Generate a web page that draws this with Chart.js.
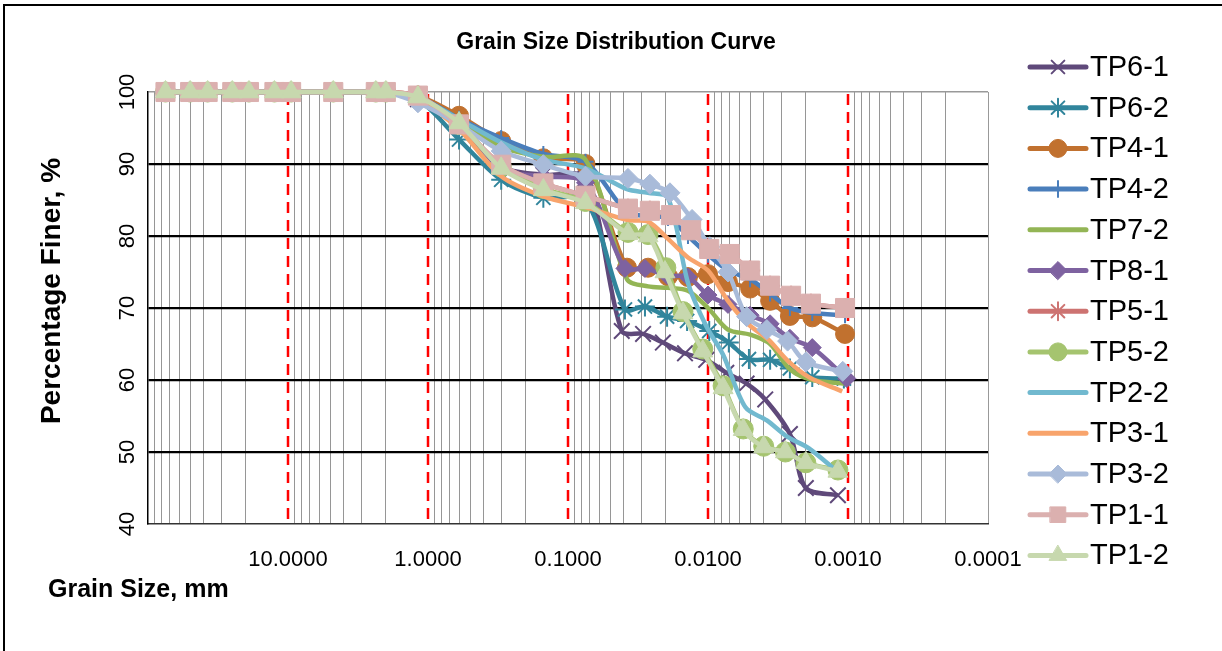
<!DOCTYPE html>
<html><head><meta charset="utf-8">
<script src="https://cdn.jsdelivr.net/npm/chart.js@4.4.0/dist/chart.umd.min.js"></script>
<style>html,body{margin:0;padding:0;background:#fff;}#wrap{width:1222px;height:651px;position:relative;}</style>
</head><body><div id="wrap"><canvas id="c"></canvas></div>
<script>
// ---------- DATA ----------
const chartTitle = 'Grain Size Distribution Curve';
const xTitle = 'Grain Size, mm';
const yTitle = 'Percentage Finer, %';
const sieveSizes = [75, 50, 37.5, 25, 19, 12.5, 9.5, 4.75, 2.36, 2.0, 1.18, 0.6, 0.3, 0.15, 0.075];
const xTickValues = [10, 1, 0.1, 0.01, 0.001, 0.0001];
const yTickValues = [40, 50, 60, 70, 80, 90, 100];
const seriesNames = ['TP6-1','TP6-2','TP4-1','TP4-2','TP7-2','TP8-1','TP5-1','TP5-2','TP2-2','TP3-1','TP3-2','TP1-1','TP1-2'];

const tp6_1_hyd = [0.0413, 0.0291, 0.0210, 0.0146, 0.0103, 0.0074, 0.0053, 0.0039, 0.0026, 0.0020, 0.00118];
const tp6_1 = [100,100,100,100,100,100,100,100,100,100, 99.0, 95.3, 89.6, 88.5, 88.0, 66.8, 66.4, 65.2, 63.7, 62.8, 61.0, 59.5, 57.3, 52.5, 45.0, 44.0];
const tp6_2_hyd = [0.0392, 0.0282, 0.0196, 0.0141, 0.0098, 0.0071, 0.0051, 0.0036, 0.0026, 0.0018, 0.00107];
const tp6_2 = [100,100,100,100,100,100,100,100,100,100, 99.0, 93.4, 87.8, 85.3, 85.0, 69.8, 70.2, 68.8, 68.2, 66.8, 65.2, 62.9, 62.8, 61.6, 60.4, 60.2];
const tp4_1_hyd = [0.0379, 0.0268, 0.0193, 0.0139, 0.0100, 0.0072, 0.0050, 0.0036, 0.0026, 0.0018, 0.00105];
const tp4_1 = [100,100,100,100,100,100,100,100,100,100, 99.5, 96.7, 93.2, 90.8, 90.0, 75.6, 75.6, 74.4, 74.3, 74.7, 73.6, 72.7, 71.0, 68.9, 68.7, 66.4];
const tp4_2_hyd = [0.0379, 0.0268, 0.0193, 0.0139, 0.0100, 0.0072, 0.0050, 0.0036, 0.0026, 0.0018, 0.00105];
const tp4_2 = [100,100,100,100,100,100,100,100,100,100, 99.4, 96.3, 93.6, 91.4, 90.3, 83.3, 82.8, 82.5, 80.0, 77.4, 75.2, 74.0, 72.0, 70.0, 69.3, 69.0];
const tp7_2_hyd = [0.0379, 0.0268, 0.0193, 0.0139, 0.0100, 0.0072, 0.0050, 0.0036, 0.0026, 0.0018, 0.00105];
const tp7_2 = [100,100,100,100,100,100,100,100,100,100, 99.3, 96.0, 92.4, 91.0, 90.6, 74.0, 73.0, 72.8, 72.4, 70.0, 67.0, 66.3, 65.0, 61.5, 60.0, 59.5];
const tp8_1_hyd = [0.0392, 0.0282, 0.0196, 0.0139, 0.0100, 0.0072, 0.0050, 0.0036, 0.0026, 0.0018, 0.00102];
const tp8_1 = [100,100,100,100,100,100,100,100,100,100, 99.2, 95.8, 89.3, 88.3, 87.4, 75.5, 75.5, 74.5, 74.3, 71.8, 70.5, 69.0, 67.8, 65.8, 64.5, 60.2];
const tp5_1_hyd = [0.0373, 0.0260, 0.0184, 0.0132, 0.0098, 0.0070, 0.0050, 0.0036, 0.00255, 0.00184, 0.00105];
const tp5_1 = [100,100,100,100,100,100,100,100,100,100, 99.5, 95.5, 89.9, 87.3, 85.6, 83.8, 83.5, 82.9, 80.8, 78.2, 77.5, 75.2, 73.1, 71.7, 70.6, 70.0];
const tp5_2_hyd = [0.0373, 0.0268, 0.0200, 0.0151, 0.0109, 0.0078, 0.0056, 0.0040, 0.0028, 0.0020, 0.00118];
const tp5_2 = [100,100,100,100,100,100,100,100,100,100, 99.3, 95.5, 89.6, 86.6, 84.8, 80.5, 80.2, 75.6, 69.5, 64.3, 59.2, 53.2, 50.8, 50.0, 48.5, 47.5];
const tp2_2_hyd = [0.0379, 0.0268, 0.0193, 0.0139, 0.0103, 0.0078, 0.0054, 0.0038, 0.0027, 0.0019, 0.00118];
const tp2_2 = [100,100,100,100,100,100,100,100,100,100, 99.3, 96.2, 93.0, 90.6, 89.4, 86.5, 86.0, 85.3, 73.5, 67.5, 63.5, 56.2, 54.4, 52.1, 50.5, 47.2];
const tp3_1_hyd = [0.0373, 0.0268, 0.0193, 0.0139, 0.0100, 0.0072, 0.0052, 0.0037, 0.0027, 0.0019, 0.0011];
const tp3_1 = [100,100,100,100,100,100,100,100,100,100, 99.0, 94.8, 88.3, 85.5, 84.0, 82.2, 82.0, 79.6, 77.0, 75.2, 71.0, 67.8, 65.6, 62.7, 60.4, 58.4];
const tp3_2_hyd = [0.0373, 0.0260, 0.0187, 0.0130, 0.0097, 0.0072, 0.0053, 0.0038, 0.0027, 0.0020, 0.00109];
const tp3_2 = [100,100,100,100,100,100,100,100,100,100, 98.5, 95.5, 91.8, 89.9, 88.3, 88.0, 87.2, 86.0, 82.3, 78.5, 75.0, 68.8, 67.0, 65.4, 62.5, 61.2];
const tp1_1_hyd = [0.0373, 0.0260, 0.0184, 0.0132, 0.0098, 0.0070, 0.0050, 0.0036, 0.00255, 0.00184, 0.00105];
const tp1_1 = [100,100,100,100,100,100,100,100,100,100, 99.5, 95.5, 89.9, 87.3, 85.6, 83.8, 83.5, 82.9, 80.8, 78.2, 77.5, 75.2, 73.1, 71.7, 70.6, 70.0];
const tp1_2_hyd = [0.0373, 0.0268, 0.0203, 0.0151, 0.0109, 0.0078, 0.0056, 0.0040, 0.0028, 0.0020, 0.00118];
const tp1_2 = [100,100,100,100,100,100,100,100,100,100, 99.3, 95.7, 89.4, 86.4, 84.6, 80.3, 80.0, 75.0, 69.3, 64.0, 58.9, 53.1, 50.7, 50.0, 48.5, 47.3];

const hydSizes = [tp6_1_hyd, tp6_2_hyd, tp4_1_hyd, tp4_2_hyd, tp7_2_hyd, tp8_1_hyd, tp5_1_hyd, tp5_2_hyd, tp2_2_hyd, tp3_1_hyd, tp3_2_hyd, tp1_1_hyd, tp1_2_hyd];
const percents = [tp6_1, tp6_2, tp4_1, tp4_2, tp7_2, tp8_1, tp5_1, tp5_2, tp2_2, tp3_1, tp3_2, tp1_1, tp1_2];

// ---------- STYLES ----------
const styles = [
  {color:'#5F497A', marker:'crossRot', r:11, bw:2},
  {color:'#31859C', marker:'star', r:10, bw:2},
  {color:'#C1712F', marker:'circle', r:9.5, bw:1},
  {color:'#4A7EBB', marker:'cross', r:8, bw:2},
  {color:'#93B555', marker:false, r:0, bw:0},
  {color:'#7E62A0', marker:'rectRot', r:9, bw:1},
  {color:'#CD7371', marker:'star', r:10, bw:2},
  {color:'#A5C46F', marker:'circle', r:10, bw:1},
  {color:'#71B9CF', marker:false, r:0, bw:0},
  {color:'#F8A46C', marker:false, r:0, bw:0},
  {color:'#A9BBD9', marker:'rectRot', r:10, bw:1},
  {color:'#DBB0AF', marker:'rect', r:13.5, bw:1},
  {color:'#C7D8AE', marker:'triangle', r:11.5, bw:1}
];

const datasets = seriesNames.map((name, i) => {
  const sizes = sieveSizes.concat(hydSizes[i]);
  const st = styles[i];
  return {
    label: name,
    data: sizes.map((d, k) => ({x: d, y: percents[i][k]})),
    borderColor: st.color,
    backgroundColor: st.color,
    pointBackgroundColor: st.color,
    pointBorderColor: st.color,
    borderWidth: 4.5,
    pointStyle: st.marker || 'circle',
    pointRadius: st.marker ? st.r : 0,
    pointHoverRadius: st.marker ? st.r : 0,
    pointBorderWidth: st.bw,
    tension: 0.3,
    clip: false,
    order: seriesNames.length - i,
    showLine: true
  };
});

const FONT = '"Liberation Sans", Arial, sans-serif';
const isDecade = v => Math.abs(Math.log10(v) - Math.round(Math.log10(v))) < 1e-6;

const drawPlugin = {
  id: 'custom',
  beforeDraw(chart) {
    const c = chart.ctx;
    c.save();
    c.fillStyle = '#fff';
    c.fillRect(0, 0, chart.width, chart.height);
    c.strokeStyle = '#000';
    c.lineWidth = 2;
    c.strokeRect(4, 5, chart.width + 20, chart.height + 20);
    c.restore();
  },
  beforeDatasetsDraw(chart) {
    const c = chart.ctx, xs = chart.scales.x, a = chart.chartArea;
    c.save();
    c.strokeStyle = '#FF0000';
    c.lineWidth = 2.5;
    c.setLineDash([11, 7]);
    xTickValues.forEach(v => {
      if (v <= xs.min) return;
      const px = Math.round(xs.getPixelForValue(v));
      c.beginPath(); c.moveTo(px, a.top + 2); c.lineTo(px, a.bottom); c.stroke();
    });
    c.restore();
  },
  afterDraw(chart) {
    const c = chart.ctx, xs = chart.scales.x, ys = chart.scales.y, a = chart.chartArea;
    c.save();
    c.fillStyle = '#000';
    // title
    c.font = 'bold 23px ' + FONT;
    c.textAlign = 'center'; c.textBaseline = 'middle';
    c.fillText(chartTitle, 616, 43);
    // x tick labels
    c.font = '22px ' + FONT;
    xTickValues.forEach(v => {
      c.fillText(v.toFixed(4), xs.getPixelForValue(v), 560);
    });
    // y tick labels (rotated)
    yTickValues.forEach(v => {
      c.save();
      c.translate(128, ys.getPixelForValue(v));
      c.rotate(-Math.PI / 2);
      c.fillText(String(v), 0, 0);
      c.restore();
    });
    // axis titles
    c.font = 'bold 25px ' + FONT;
    c.textAlign = 'left';
    c.fillText(xTitle, 48, 590);
    c.save();
    c.font = 'bold 28px ' + FONT;
    c.translate(52, 291);
    c.rotate(-Math.PI / 2);
    c.textAlign = 'center';
    c.fillText(yTitle, 0, 0);
    c.restore();
    // legend
    const lx0 = 1030, lx1 = 1086, y0 = 67, step = 40.7;
    chart.data.datasets.forEach((ds, i) => {
      const y = y0 + i * step;
      c.save();
      c.strokeStyle = ds.borderColor;
      c.lineWidth = 5;
      c.lineCap = 'round';
      c.setLineDash([]);
      c.beginPath(); c.moveTo(lx0, y); c.lineTo(lx1, y); c.stroke();
      if (ds.pointRadius > 0) {
        c.fillStyle = ds.pointBackgroundColor;
        c.strokeStyle = ds.pointBorderColor;
        c.lineWidth = ds.pointBorderWidth;
        const r = ds.pointStyle === 'rect' ? 11 : (ds.pointStyle === 'triangle' ? 10 : Math.min(ds.pointRadius, 9));
        Chart.helpers.drawPoint(c, {pointStyle: ds.pointStyle, rotation: 0, radius: r, borderWidth: ds.pointBorderWidth}, (lx0 + lx1) / 2, y);
      }
      c.restore();
      c.fillStyle = '#000';
      c.font = '29px ' + FONT;
      c.textAlign = 'left'; c.textBaseline = 'middle';
      c.fillText(ds.label, 1090, y + 1);
    });
    c.restore();
  }
};

new Chart(document.getElementById('c'), {
  type: 'scatter',
  data: { datasets },
  options: {
    responsive: true,
    maintainAspectRatio: false,
    animation: false,
    events: [],
    layout: { padding: { left: 148, top: 92, right: 234, bottom: 127 } },
    plugins: { legend: { display: false }, title: { display: false }, tooltip: { enabled: false } },
    scales: {
      x: {
        type: 'logarithmic',
        reverse: true,
        min: 0.0001,
        max: 100,
        afterBuildTicks(axis) {
          const t = [];
          for (let e = -4; e <= 2; e++) {
            for (let m = 1; m <= 9; m++) {
              const v = m * Math.pow(10, e);
              if (v >= 0.0001 - 1e-12 && v <= 100 + 1e-9) t.push({ value: v });
            }
          }
          axis.ticks = t;
        },
        ticks: { display: false, autoSkip: false },
        grid: {
          drawTicks: false,
          color: ctx => {
            if (!ctx.tick) return '#999';
            const v = ctx.tick.value;
            if (isDecade(v)) return Math.abs(v - 0.0001) < 1e-9 ? '#999' : 'rgba(0,0,0,0)';
            return '#969696';
          },
          lineWidth: 1
        },
        border: { display: true, color: '#333', width: 1.5 }
      },
      y: {
        min: 40,
        max: 100,
        ticks: { display: false, stepSize: 10 },
        grid: {
          drawTicks: false,
          color: ctx => {
            if (!ctx.tick) return '#000';
            const v = ctx.tick.value;
            if (v === 100) return '#999';
            if (v === 40) return 'rgba(0,0,0,0)';
            return '#000';
          },
          lineWidth: ctx => (ctx.tick && ctx.tick.value > 40 && ctx.tick.value < 100) ? 2.2 : 1.5
        },
        border: { display: true, color: '#000', width: 1.5 }
      }
    }
  },
  plugins: [drawPlugin]
});
</script>
</body></html>
